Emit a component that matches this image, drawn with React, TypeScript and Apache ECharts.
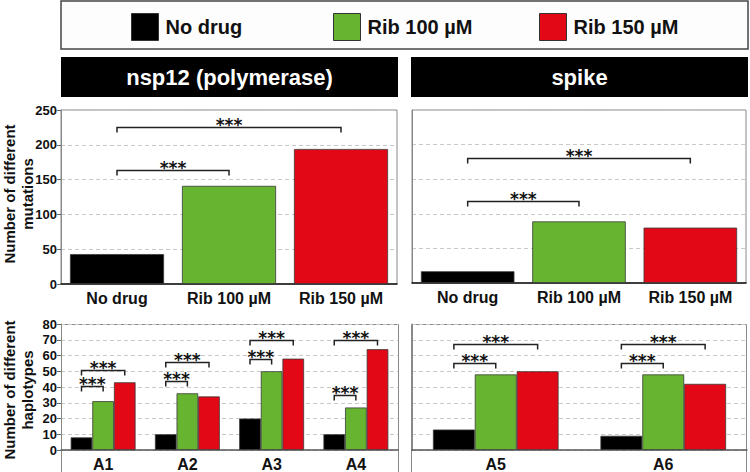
import React, { useEffect, useRef } from "react";
import * as echarts from "echarts";

const FONT = '"Liberation Sans", Arial, Helvetica, sans-serif';
const STAR_FONT = '"DejaVu Sans", "Liberation Sans", sans-serif';

// ---- data ----
const drugs = ["No drug", "Rib 100 µM", "Rib 150 µM"];
const drugColors = ["#000000", "#67b430", "#e30816"];

const mutNsp12 = [43, 141, 194];
const mutSpike = [17, 89, 80];

const hapNspCats = ["A1", "A2", "A3", "A4"];
const hapSpikeCats = ["A5", "A6"];
const hapNspNoDrug = [8, 10, 20, 10];
const hapNspRib100 = [31, 36, 50, 27];
const hapNspRib150 = [43, 34, 58, 64];
const hapSpikeNoDrug = [13, 9];
const hapSpikeRib100 = [48, 48];
const hapSpikeRib150 = [50, 42];

const mutAxisMax = 250;
const mutAxisStep = 50;
const hapAxisMax = 80;
const hapAxisStep = 10;

// brackets: [fromCategory, toCategory, y]
const mutNspBrackets = [
  [0, 1, 164],
  [0, 2, 225],
];
const mutSpikeBrackets = [
  [0, 1, 119],
  [0, 2, 181],
];
// grouped brackets: [category, fromBar, toBar, y]
const hapNspBrackets = [
  [0, 0, 1, 40.5],
  [0, 0, 2, 51],
  [1, 0, 1, 44],
  [1, 0, 2, 56],
  [2, 0, 1, 58],
  [2, 0, 2, 70],
  [3, 0, 1, 35],
  [3, 0, 2, 70],
];
const hapSpikeBrackets = [
  [0, 0, 1, 55.5],
  [0, 0, 2, 67],
  [1, 0, 1, 55.5],
  [1, 0, 2, 67],
];

const STARS = "***";

function bracketRenderer(grouped: boolean, gap: number) {
  return (params: any, api: any) => {
    let x1: number, x2: number, y: number;
    if (grouped) {
      const cat = api.value(0);
      const a = api.value(1);
      const b = api.value(2);
      const c = api.coord([cat, api.value(3)]);
      const band = api.size([1, 0])[0];
      const bw = (band * (1 - gap)) / 3;
      x1 = c[0] + (a - 1) * bw;
      x2 = c[0] + (b - 1) * bw;
      y = c[1];
    } else {
      const p1 = api.coord([api.value(0), api.value(2)]);
      const p2 = api.coord([api.value(1), api.value(2)]);
      x1 = p1[0];
      x2 = p2[0];
      y = p1[1];
    }
    y = Math.round(y) + 0.5;
    return {
      type: "group",
      children: [
        {
          type: "polyline",
          shape: {
            points: [
              [x1, y + 5],
              [x1, y],
              [x2, y],
              [x2, y + 5],
            ],
          },
          style: { stroke: "#222", lineWidth: 1.5, fill: null },
        },
        {
          type: "text",
          x: (x1 + x2) / 2,
          y: y - 3,
          style: {
            text: STARS,
            fontSize: 17,
            fontWeight: "bold",
            fontFamily: STAR_FONT,
            fill: "#111",
            align: "center",
            verticalAlign: "middle",
          },
        },
      ],
    };
  };
}

const yLabel = { fontSize: 13, fontWeight: "bold", color: "#111", fontFamily: FONT, margin: 4 };
const xLabel = { fontSize: 16, fontWeight: "bold", color: "#111", fontFamily: FONT, margin: 6 };
const splitLine = { show: true, lineStyle: { color: "#c8c8c8", type: [4, 3], width: 1 } };

function yAxis(gridIndex: number, max: number, step: number, showLabels: boolean) {
  return {
    type: "value",
    gridIndex,
    min: 0,
    max,
    interval: step,
    axisLine: { show: true, lineStyle: { color: "#888", width: 1 } },
    axisTick: { show: showLabels, length: 4, lineStyle: { color: "#666" } },
    axisLabel: { ...yLabel, show: showLabels },
    splitLine,
  };
}

function xAxis(gridIndex: number, data: string[], color: string) {
  return {
    type: "category",
    gridIndex,
    data,
    axisLine: { show: true, lineStyle: { color, width: 1.5 } },
    axisTick: { show: false },
    axisLabel: xLabel,
  };
}

const barBorder = { borderColor: "#3a3a3a", borderWidth: 0.8 };

function groupedSeries(axis: number, values: number[][], gap: string) {
  return values.map((vals, i) => ({
    type: "bar",
    name: drugs[i],
    xAxisIndex: axis,
    yAxisIndex: axis,
    data: vals,
    barGap: "0%",
    barCategoryGap: gap,
    itemStyle: { color: drugColors[i], ...barBorder },
    emphasis: { disabled: true },
  }));
}

function legendFor(i: number, left: number) {
  return {
    data: [drugs[i]],
    left,
    top: 13,
    padding: 0,
    itemWidth: 27,
    itemHeight: 27,
    icon: "rect",
    selectedMode: false,
    itemStyle: { borderColor: "#333", borderWidth: 1 },
    textStyle: {
      fontSize: 20,
      fontWeight: "bold",
      color: "#111",
      fontFamily: FONT,
      padding: [0, 0, 0, 2],
    },
  };
}

function yTitle(text: string, y: number) {
  return {
    type: "text",
    x: 18,
    y,
    rotation: Math.PI / 2,
    style: {
      text,
      fill: "#111",
      fontSize: 15,
      fontWeight: "bold",
      fontFamily: FONT,
      align: "center",
      verticalAlign: "middle",
      lineHeight: 18,
    },
  };
}

export default function App() {
  const ref = useRef<HTMLDivElement>(null);
  useEffect(() => {
    if (!ref.current) return;
    const chart = echarts.init(ref.current, null, { renderer: "svg" });
    const option: any = {
      animation: false,
      textStyle: { fontFamily: FONT },
      legend: [legendFor(0, 131), legendFor(1, 333), legendFor(2, 539)],
      grid: [
        { left: 61, top: 110, width: 336, height: 174, show: true, borderColor: "#888", borderWidth: 1 },
        { left: 412, top: 110, width: 334, height: 173, show: true, borderColor: "#888", borderWidth: 1 },
        { left: 61, top: 324, width: 337, height: 129 },
        { left: 412, top: 324, width: 335, height: 129 },
      ],
      xAxis: [
        xAxis(0, drugs, "#111"),
        xAxis(1, drugs, "#111"),
        xAxis(2, hapNspCats, "#555"),
        xAxis(3, hapSpikeCats, "#555"),
      ],
      yAxis: [
        yAxis(0, mutAxisMax, mutAxisStep, true),
        yAxis(1, mutAxisMax, mutAxisStep, false),
        yAxis(2, hapAxisMax, hapAxisStep, true),
        yAxis(3, hapAxisMax, hapAxisStep, false),
      ],
      graphic: [
        {
          type: "rect",
          shape: { x: 61, y: 1, width: 687, height: 48 },
          style: { fill: "#fdfdfd", stroke: "#444", lineWidth: 1.5 },
          z: -1,
        },
        {
          type: "rect",
          shape: { x: 61, y: 57, width: 337, height: 40 },
          style: { fill: "#000" },
        },
        {
          type: "text",
          x: 229.5,
          y: 77,
          style: {
            text: "nsp12 (polymerase)",
            fill: "#fff",
            fontSize: 22,
            fontWeight: "bold",
            fontFamily: FONT,
            align: "center",
            verticalAlign: "middle",
          },
        },
        {
          type: "rect",
          shape: { x: 411, y: 57, width: 337, height: 40 },
          style: { fill: "#000" },
        },
        {
          type: "text",
          x: 579.5,
          y: 77,
          style: {
            text: "spike",
            fill: "#fff",
            fontSize: 22,
            fontWeight: "bold",
            fontFamily: FONT,
            align: "center",
            verticalAlign: "middle",
          },
        },
        yTitle("Number of different\nmutations", 194),
        yTitle("Number of different\nhaplotypes", 390),
        {
          type: "rect",
          shape: { x: 61.5, y: 324.5, width: 337, height: 160 },
          style: { fill: null, stroke: "#888", lineWidth: 1 },
        },
        {
          type: "rect",
          shape: { x: 411.5, y: 324.5, width: 335, height: 160 },
          style: { fill: null, stroke: "#888", lineWidth: 1 },
        },
      ],
      series: [
        {
          type: "bar",
          name: "nsp12 mutations",
          xAxisIndex: 0,
          yAxisIndex: 0,
          barWidth: "84%",
          data: mutNsp12.map((v, i) => ({ value: v, itemStyle: { color: drugColors[i], ...barBorder } })),
          emphasis: { disabled: true },
        },
        {
          type: "bar",
          name: "spike mutations",
          xAxisIndex: 1,
          yAxisIndex: 1,
          barWidth: "84%",
          data: mutSpike.map((v, i) => ({ value: v, itemStyle: { color: drugColors[i], ...barBorder } })),
          emphasis: { disabled: true },
        },
        ...groupedSeries(2, [hapNspNoDrug, hapNspRib100, hapNspRib150], "23%"),
        ...groupedSeries(3, [hapSpikeNoDrug, hapSpikeRib100, hapSpikeRib150], "25%"),
        {
          type: "custom",
          xAxisIndex: 0,
          yAxisIndex: 0,
          renderItem: bracketRenderer(false, 0),
          data: mutNspBrackets,
          encode: { x: 0, y: 2 },
          z: 5,
          silent: true,
        },
        {
          type: "custom",
          xAxisIndex: 1,
          yAxisIndex: 1,
          renderItem: bracketRenderer(false, 0),
          data: mutSpikeBrackets,
          encode: { x: 0, y: 2 },
          z: 5,
          silent: true,
        },
        {
          type: "custom",
          xAxisIndex: 2,
          yAxisIndex: 2,
          renderItem: bracketRenderer(true, 0.23),
          data: hapNspBrackets,
          encode: { x: 0, y: 3 },
          z: 5,
          silent: true,
        },
        {
          type: "custom",
          xAxisIndex: 3,
          yAxisIndex: 3,
          renderItem: bracketRenderer(true, 0.25),
          data: hapSpikeBrackets,
          encode: { x: 0, y: 3 },
          z: 5,
          silent: true,
        },
      ],
    };
    chart.setOption(option);
    return () => chart.dispose();
  }, []);
  return (
    <div
      ref={ref}
      style={{ position: "fixed", left: 0, top: 0, width: 750, height: 472, background: "#fff" }}
    />
  );
}
